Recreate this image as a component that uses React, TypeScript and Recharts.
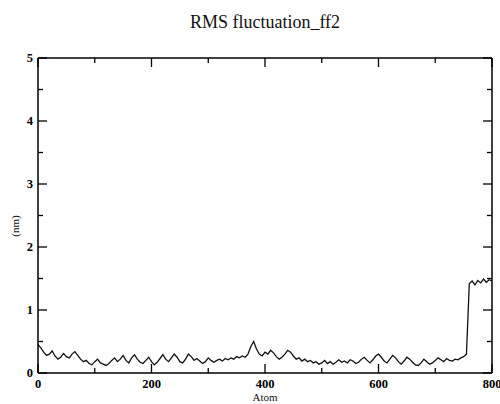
import { Line, LineChart, XAxis, YAxis } from "recharts";

// RMSF per atom, sampled every 5 atoms (0..800)
const ATOMS = Array.from({ length: 161 }, (_, i) => i * 5);
const RMSF = [
  0.45, 0.40, 0.33, 0.28, 0.30, 0.35, 0.27, 0.22, 0.25, 0.31,
  0.26, 0.24, 0.30, 0.34, 0.28, 0.22, 0.18, 0.20, 0.15, 0.13,
  0.18, 0.22, 0.16, 0.14, 0.12, 0.15, 0.20, 0.24, 0.18, 0.22,
  0.28, 0.20, 0.16, 0.24, 0.29, 0.22, 0.17, 0.15, 0.20, 0.25,
  0.18, 0.13, 0.17, 0.23, 0.29, 0.22, 0.18, 0.24, 0.30, 0.25,
  0.18, 0.16, 0.22, 0.30, 0.26, 0.20, 0.23, 0.19, 0.15, 0.18,
  0.24, 0.20, 0.17, 0.20, 0.22, 0.19, 0.23, 0.21, 0.24, 0.22,
  0.26, 0.24, 0.27, 0.25, 0.30, 0.42, 0.50, 0.38, 0.30, 0.27,
  0.33, 0.30, 0.36, 0.32, 0.26, 0.22, 0.25, 0.30, 0.36, 0.33,
  0.27, 0.22, 0.24, 0.19, 0.22, 0.18, 0.20, 0.16, 0.18, 0.14,
  0.16, 0.20, 0.15, 0.18, 0.14, 0.17, 0.21, 0.17, 0.19, 0.16,
  0.21, 0.19, 0.15, 0.17, 0.22, 0.25, 0.20, 0.16, 0.21, 0.27,
  0.30, 0.25, 0.19, 0.16, 0.22, 0.28, 0.24, 0.18, 0.14, 0.19,
  0.25, 0.22, 0.17, 0.13, 0.12, 0.16, 0.22, 0.18, 0.14, 0.16,
  0.20, 0.24, 0.21, 0.18, 0.23, 0.20, 0.19, 0.22, 0.21, 0.24,
  0.26, 0.30, 1.42, 1.46, 1.40, 1.47, 1.43, 1.49, 1.44, 1.48,
  1.46,
];

const X_TICKS = [0, 100, 200, 300, 400, 500, 600, 700, 800];
const X_LABELS = [0, 200, 400, 600, 800];
const Y_TICKS = [0, 0.5, 1, 1.5, 2, 2.5, 3, 3.5, 4, 4.5, 5];
const Y_LABELS = [0, 1, 2, 3, 4, 5];

const FONT = '"Liberation Serif", "Times New Roman", serif';
const MAJOR = 9;
const MINOR = 5;
// frame edges (margin + axis size) so ticks can be mirrored onto the top/right sides
const PLOT_TOP = 58;
const PLOT_RIGHT = 492;

const data = ATOMS.map((atom, i) => ({ atom, rmsf: RMSF[i] }));

function BottomTick({ x, y, payload }: any) {
  const major = X_LABELS.includes(payload.value);
  const len = major ? MAJOR : MINOR;
  return (
    <g>
      <line x1={x} x2={x} y1={y} y2={y - len} stroke="#000" strokeWidth={1.3} />
      <line x1={x} x2={x} y1={PLOT_TOP} y2={PLOT_TOP + len} stroke="#000" strokeWidth={1.3} />
      {major && (
        <text x={x} y={y + 15} textAnchor="middle" fontFamily={FONT} fontSize={12.5} fontWeight="bold" fill="#000">
          {payload.value}
        </text>
      )}
    </g>
  );
}

function LeftTick({ x, y, payload }: any) {
  const major = Y_LABELS.includes(payload.value);
  const len = major ? MAJOR : MINOR;
  return (
    <g>
      <line x1={x} x2={x + len} y1={y} y2={y} stroke="#000" strokeWidth={1.3} />
      <line x1={PLOT_RIGHT} x2={PLOT_RIGHT - len} y1={y} y2={y} stroke="#000" strokeWidth={1.3} />
      {major && (
        <text x={x - 5} y={y + 4} textAnchor="end" fontFamily={FONT} fontSize={12.5} fontWeight="bold" fill="#000">
          {payload.value}
        </text>
      )}
    </g>
  );
}

export default function App() {
  return (
    <div style={{ position: "absolute", left: 0, top: 0, width: 500, height: 404, background: "#fff", fontFamily: FONT }}>
      <div style={{ position: "absolute", left: 38, width: 454, top: 12, textAlign: "center", fontSize: 18, color: "#111" }}>
        RMS fluctuation_ff2
      </div>
      <div
        style={{
          position: "absolute",
          left: 15,
          top: 226,
          transform: "translate(-50%, -50%) rotate(-90deg)",
          fontSize: 11,
          color: "#111",
          whiteSpace: "nowrap",
        }}
      >
        (nm)
      </div>
      <div style={{ position: "absolute", left: 265, top: 397, transform: "translate(-50%, -50%)", fontSize: 11, color: "#111" }}>
        Atom
      </div>
      <LineChart width={500} height={404} data={data} margin={{ top: 57, right: 7, left: 0, bottom: 0 }}>
        <XAxis
          dataKey="atom"
          type="number"
          domain={[0, 800]}
          ticks={X_TICKS}
          interval={0}
          height={31}
          tickSize={0}
          tickMargin={0}
          tickLine={false}
          axisLine={{ stroke: "#000", strokeWidth: 1.5 }}
          tick={BottomTick}
        />
        <XAxis
          xAxisId="top"
          dataKey="atom"
          orientation="top"
          type="number"
          domain={[0, 800]}
          height={1}
          tick={false}
          tickLine={false}
          axisLine={{ stroke: "#000", strokeWidth: 1.5 }}
        />
        <YAxis
          type="number"
          domain={[0, 5]}
          ticks={Y_TICKS}
          interval={0}
          width={38}
          tickSize={0}
          tickMargin={0}
          tickLine={false}
          axisLine={{ stroke: "#000", strokeWidth: 1.5 }}
          tick={LeftTick}
        />
        <YAxis
          yAxisId="right"
          orientation="right"
          type="number"
          domain={[0, 5]}
          width={1}
          tick={false}
          tickLine={false}
          axisLine={{ stroke: "#000", strokeWidth: 1.5 }}
        />
        <Line
          xAxisId="top"
          yAxisId="right"
          type="linear"
          dataKey="rmsf"
          stroke="none"
          dot={false}
          activeDot={false}
          isAnimationActive={false}
        />
        <Line type="linear" dataKey="rmsf" stroke="#111" strokeWidth={1.3} dot={false} isAnimationActive={false} />
      </LineChart>
    </div>
  );
}
